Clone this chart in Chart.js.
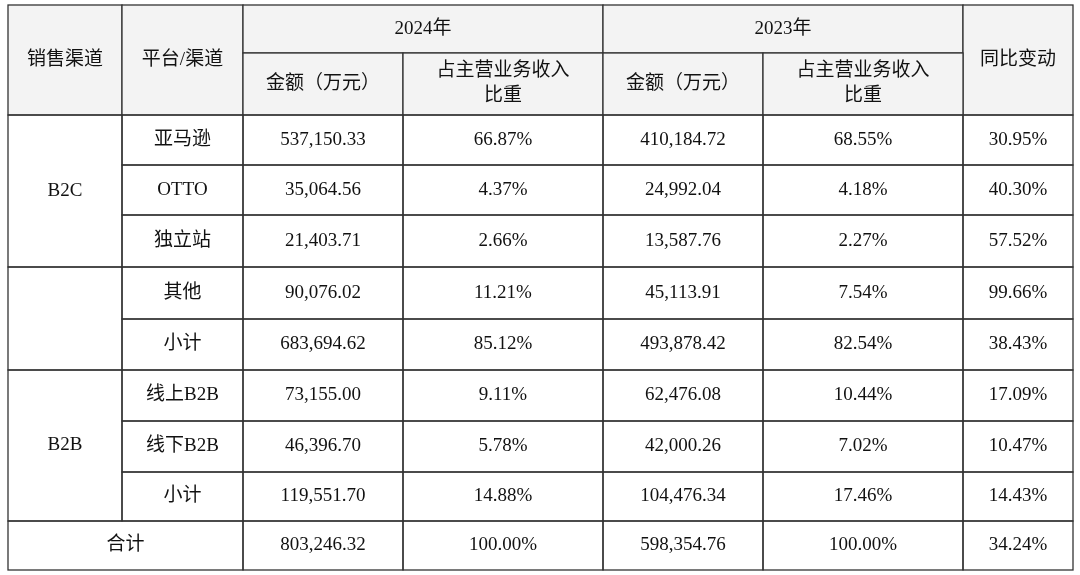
<!DOCTYPE html>
<html><head><meta charset="utf-8">
<script src="https://cdn.jsdelivr.net/npm/chart.js@4"></script>
<style>html,body{margin:0;background:#fff}#wrap{width:1080px;height:575px}</style>
</head><body><div id="wrap"><canvas id="tbl"></canvas></div>
<script>
// table data
const channels = ["亚马逊", "OTTO", "独立站", "其他", "小计", "线上B2B", "线下B2B", "小计"];
const amount2024 = ["537,150.33", "35,064.56", "21,403.71", "90,076.02", "683,694.62", "73,155.00", "46,396.70", "119,551.70"];
const share2024 = ["66.87%", "4.37%", "2.66%", "11.21%", "85.12%", "9.11%", "5.78%", "14.88%"];
const amount2023 = ["410,184.72", "24,992.04", "13,587.76", "45,113.91", "493,878.42", "62,476.08", "42,000.26", "104,476.34"];
const share2023 = ["68.55%", "4.18%", "2.27%", "7.54%", "82.54%", "10.44%", "7.02%", "17.46%"];
const yoy = ["30.95%", "40.30%", "57.52%", "99.66%", "38.43%", "17.09%", "10.47%", "14.43%"];
const totalRow = ["合计", "803,246.32", "100.00%", "598,354.76", "100.00%", "34.24%"];

// layout
const colEdges = [8, 122, 243, 403, 603, 763, 963, 1073];
const rowEdges = [5, 53, 115, 165, 215, 267, 319, 370, 421, 472, 521, 570];
const FONT = '"Liberation Serif", "Noto Sans CJK SC", serif';

const tablePlugin = {
  id: "tablePlugin",
  afterDraw(chart) {
    const ctx = chart.ctx;
    const xs = chart.scales.x, ys = chart.scales.y;
    const px = v => xs.getPixelForValue(v), py = v => ys.getPixelForValue(v);
    function cell(c0, c1, r0, r1, lines, bg) {
      const x0 = px(colEdges[c0]), x1 = px(colEdges[c1]);
      const y0 = py(rowEdges[r0]), y1 = py(rowEdges[r1]);
      if (bg) { ctx.fillStyle = bg; ctx.fillRect(x0, y0, x1 - x0, y1 - y0); }
      ctx.strokeStyle = "#333"; ctx.lineWidth = 1.3;
      ctx.strokeRect(x0, y0, x1 - x0, y1 - y0);
      ctx.fillStyle = "#111"; ctx.font = "19px " + FONT;
      ctx.textAlign = "center"; ctx.textBaseline = "middle";
      const arr = [].concat(lines);
      const lh = 25, cy = (y0 + y1) / 2 - (arr.length - 1) * lh / 2;
      arr.forEach((t, i) => ctx.fillText(t, (x0 + x1) / 2, cy + i * lh));
    }
    const hb = "#f3f3f3";
    cell(0, 1, 0, 2, "销售渠道", hb);
    cell(1, 2, 0, 2, "平台/渠道", hb);
    cell(2, 4, 0, 1, "2024年", hb);
    cell(4, 6, 0, 1, "2023年", hb);
    cell(6, 7, 0, 2, "同比变动", hb);
    cell(2, 3, 1, 2, "金额（万元）", hb);
    cell(3, 4, 1, 2, ["占主营业务收入", "比重"], hb);
    cell(4, 5, 1, 2, "金额（万元）", hb);
    cell(5, 6, 1, 2, ["占主营业务收入", "比重"], hb);
    cell(0, 1, 2, 5, "B2C");
    cell(0, 1, 5, 7, "");
    cell(0, 1, 7, 10, "B2B");
    channels.forEach((c, i) => {
      const r = i + 2;
      cell(1, 2, r, r + 1, c);
      cell(2, 3, r, r + 1, amount2024[i]);
      cell(3, 4, r, r + 1, share2024[i]);
      cell(4, 5, r, r + 1, amount2023[i]);
      cell(5, 6, r, r + 1, share2023[i]);
      cell(6, 7, r, r + 1, yoy[i]);
    });
    cell(0, 2, 10, 11, totalRow[0]);
    for (let k = 1; k < totalRow.length; k++) cell(k + 1, k + 2, 10, 11, totalRow[k]);
  }
};

new Chart(document.getElementById("tbl"), {
  type: "scatter",
  data: { datasets: [{ data: [] }] },
  options: {
    responsive: true, maintainAspectRatio: false, animation: false,
    layout: { padding: 0 },
    plugins: { legend: { display: false }, tooltip: { enabled: false } },
    scales: {
      x: { type: "linear", min: 0, max: 1080, display: false },
      y: { type: "linear", min: 0, max: 575, reverse: true, display: false }
    }
  },
  plugins: [tablePlugin]
});
</script></body></html>
